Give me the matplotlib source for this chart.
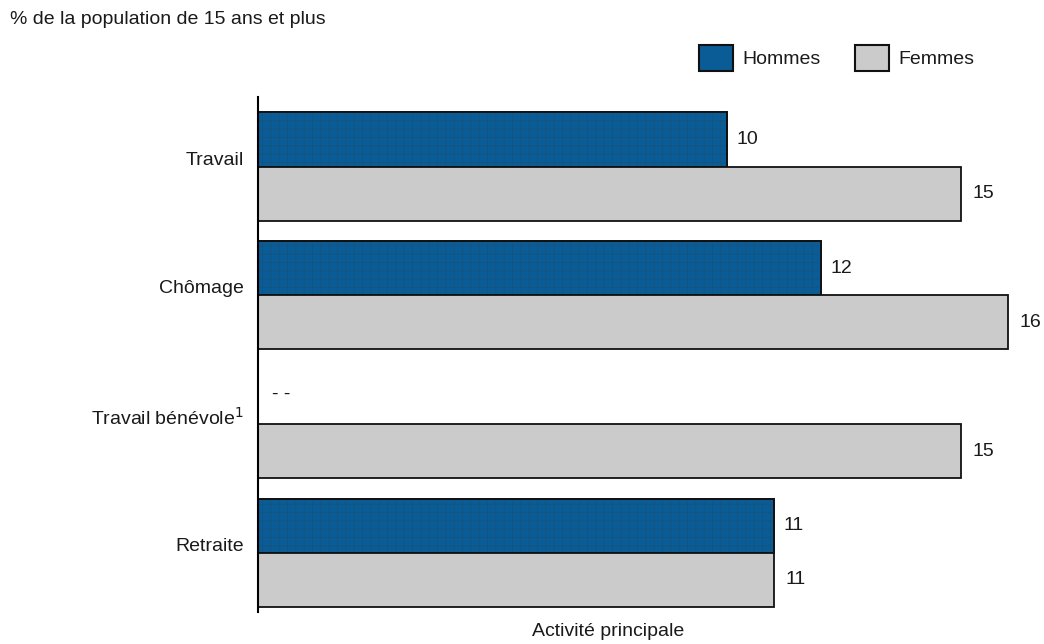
import matplotlib.pyplot as plt
from matplotlib.patches import Patch

plt.rcParams['font.family'] = ['Liberation Sans', 'DejaVu Sans']
plt.rcParams['hatch.linewidth'] = 0.5

categories = ['Travail', 'Chômage', 'Travail bénévole$^{1}$', 'Retraite']
hommes = [10, 12, None, 11]
femmes = [15, 16, 15, 11]
hommes_labels = ['10', '12', '- -', '11']
femmes_labels = ['15', '16', '15', '11']

blue = '#0a5c96'
grey = '#cbcbcb'
fs = 14
txt = '#1a1a1a'

fig = plt.figure(figsize=(10.44, 6.44), dpi=100)
ax = fig.add_axes([258 / 1044, 1 - 612 / 644, 1 - 258 / 1044, (612 - 97) / 644])

h = 0.42
ys = list(range(len(categories)))
for i, y in enumerate(ys):
    if hommes[i] is not None:
        ax.barh(y - h / 2, hommes[i], height=h, color=blue, edgecolor='#111111', linewidth=1.3)
        ax.barh(y - h / 2, hommes[i], height=h, fill=False, hatch='++', edgecolor='#16527a', linewidth=0)
        ax.barh(y - h / 2, hommes[i], height=h, fill=False, edgecolor='#111111', linewidth=1.3)
        ax.annotate(hommes_labels[i], (hommes[i], y - h / 2), xytext=(7, 0), color=txt,
                    textcoords='offset points', ha='left', va='center', fontsize=fs)
    else:
        ax.annotate(hommes_labels[i], (0, y - h / 2), xytext=(10, 2), color=txt,
                    textcoords='offset points', ha='left', va='center', fontsize=fs)
    ax.barh(y + h / 2, femmes[i], height=h, color=grey, edgecolor='#111111', linewidth=1.3)
    ax.annotate(femmes_labels[i], (femmes[i], y + h / 2), xytext=(8, 0), color=txt,
                textcoords='offset points', ha='left', va='center', fontsize=fs)

ax.set_xlim(0, (1044 - 258) / 46.9)
ax.set_ylim(3.46, -0.54)
ax.set_yticks([y - 0.065 for y in ys])
ax.set_yticklabels(categories, fontsize=fs, color=txt)
ax.tick_params(axis='y', length=0, pad=10)
ax.set_xticks([])
for s in ['top', 'right', 'bottom']:
    ax.spines[s].set_visible(False)
ax.spines['left'].set_linewidth(1.5)

fig.text(10 / 1044, 1 - 19 / 644, '% de la population de 15 ans et plus', fontsize=fs, va='center', ha='left', color=txt)
fig.text(608 / 1044, 1 - 632 / 644, 'Activité principale', fontsize=fs, va='center', ha='center', color=txt)

handles = [Patch(facecolor=blue, edgecolor='#111111', linewidth=1.5, label='Hommes'),
           Patch(facecolor=grey, edgecolor='#111111', linewidth=1.5, label='Femmes')]
leg = fig.legend(handles=handles, loc='center left', bbox_to_anchor=(681 / 1044, 1 - 58 / 644),
                 ncol=2, frameon=False, fontsize=fs, handlelength=1.75, handleheight=1.7,
                 handletextpad=0.5, columnspacing=1.75)
for t in leg.get_texts():
    t.set_color(txt)

fig.savefig('out.png', dpi=100)
